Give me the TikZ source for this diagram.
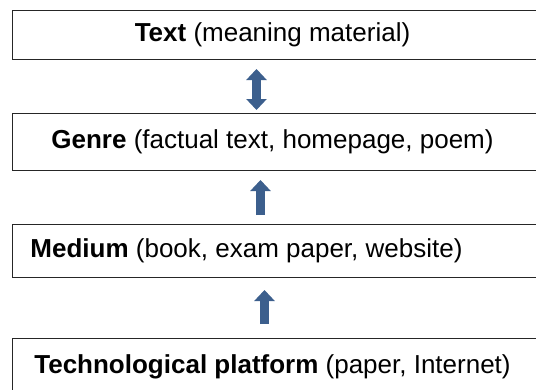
\documentclass[tikz,border=0pt]{standalone}
\usepackage{fontspec}
\setmainfont{Liberation Sans}
\usetikzlibrary{arrows.meta}
\definecolor{arrowblue}{HTML}{3C5F8D}

\begin{document}
\begin{tikzpicture}[x=1pt,y=1pt,
    layer/.style={draw=black!85,line width=1pt,minimum width=530pt,inner sep=0pt,
        anchor=north west,font=\fontsize{26}{30}\selectfont},
    blockarrow/.style={arrowblue,line width=9pt,-{Triangle[width=20pt,length=11pt]}}]
    \useasboundingbox (0,0) rectangle (536,-389);
    % the four levels
    \node[layer,minimum height=49] (text) at (12,-10) {\textbf{Text} (meaning material)\hspace{10pt}\mbox{}};
    \node[layer,minimum height=57] (genre) at (12,-113) {\textbf{Genre} (factual text, homepage, poem)\hspace{10pt}\mbox{}};
    \node[layer,minimum height=53] (medium) at (12,-224) {\textbf{Medium} (book, exam paper, website)\hspace{62pt}\mbox{}};
    \node[layer,minimum height=56] (platform) at (12,-338) {\textbf{Technological platform} (paper, Internet)\hspace{10pt}\mbox{}};
    % arrows between levels
    \draw[blockarrow,{Triangle[width=20pt,length=11pt]}-{Triangle[width=20pt,length=11pt]},shorten <=9pt,shorten >=3pt]
        ([xshift=-21]text.south) -- ([xshift=-21]genre.north);
    \draw[blockarrow,shorten <=9pt,shorten >=9pt]
        ([xshift=-17]medium.north) -- ([xshift=-17]genre.south);
    \draw[blockarrow,shorten <=14pt,shorten >=12pt]
        ([xshift=-13]platform.north) -- ([xshift=-13]medium.south);
\end{tikzpicture}
\end{document}
